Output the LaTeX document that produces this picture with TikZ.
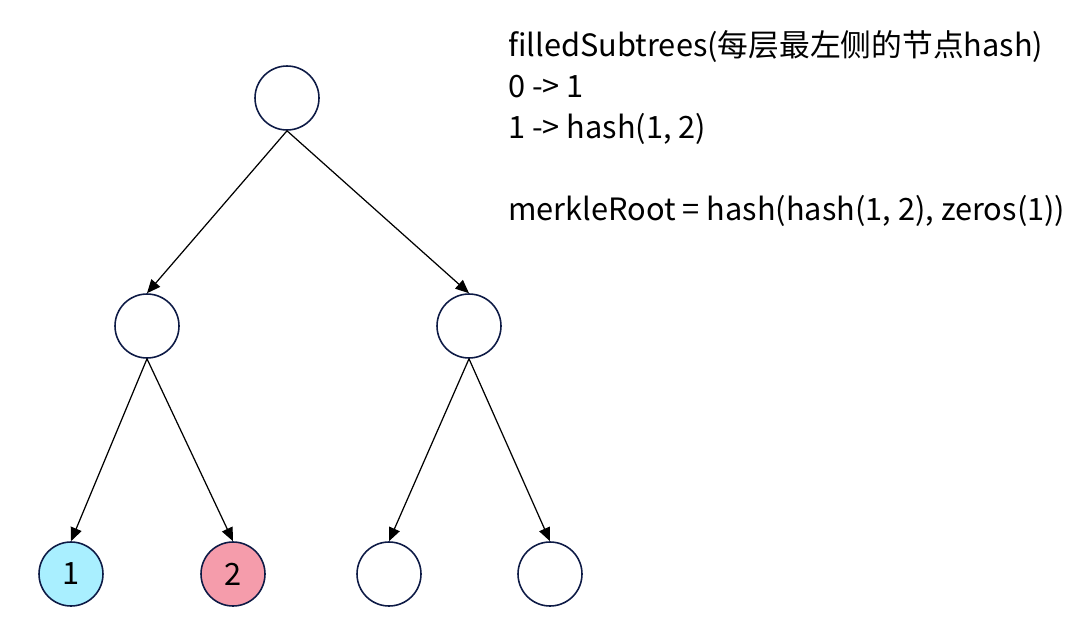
\documentclass[tikz,border=0pt]{standalone}
\usepackage{fontspec}
\setmainfont{Noto Sans CJK SC}
\usetikzlibrary{arrows.meta}

\definecolor{navyline}{HTML}{0D1A45}
\definecolor{leafblue}{HTML}{A9EFFF}
\definecolor{leafpink}{HTML}{F59CAB}

\begin{document}
\begin{tikzpicture}[x=0.02cm, y=-0.02cm,
    treenode/.style={circle, draw=navyline, line width=0.9pt, minimum size=1.28cm, inner sep=0pt, font=\fontsize{17.5}{17.5}\selectfont},
    link/.style={-{Triangle[length=0.27cm, width=0.23cm]}, line width=0.7pt, black}]

    % Fix the page to the reference size
    \useasboundingbox (0,0) rectangle (1084,628);

    % Tree: root, middle level, leaves
    \node[treenode] (root) at (287,98) {};
    \node[treenode] (midL) at (147,326) {};
    \node[treenode] (midR) at (469,326) {};
    \node[treenode, fill=leafblue] (leafA) at (71,574) {1};
    \node[treenode, fill=leafpink] (leafB) at (233,574) {2};
    \node[treenode] (leafC) at (389,574) {};
    \node[treenode] (leafD) at (550,574) {};

    % Arrows from parent to child
    \draw[link] (root.south) -- (midL.north);
    \draw[link] (root.south) -- (midR.north);
    \draw[link] (midL.south) -- (leafA.north);
    \draw[link] (midL.south) -- (leafB.north);
    \draw[link] (midR.south) -- (leafC.north);
    \draw[link] (midR.south) -- (leafD.north);

    % Notes on the right (anchored at the last baseline)
    \node[anchor=base west, align=left, inner sep=0pt, font=\fontsize{17.5}{23.3}\selectfont] (notes) at (508,220)
        {filledSubtrees(每层最左侧的节点hash)\\0 -> 1\\1 -> hash(1, 2)\\[23.3pt]merkleRoot = hash(hash(1, 2), zeros(1))};

\end{tikzpicture}
\end{document}
